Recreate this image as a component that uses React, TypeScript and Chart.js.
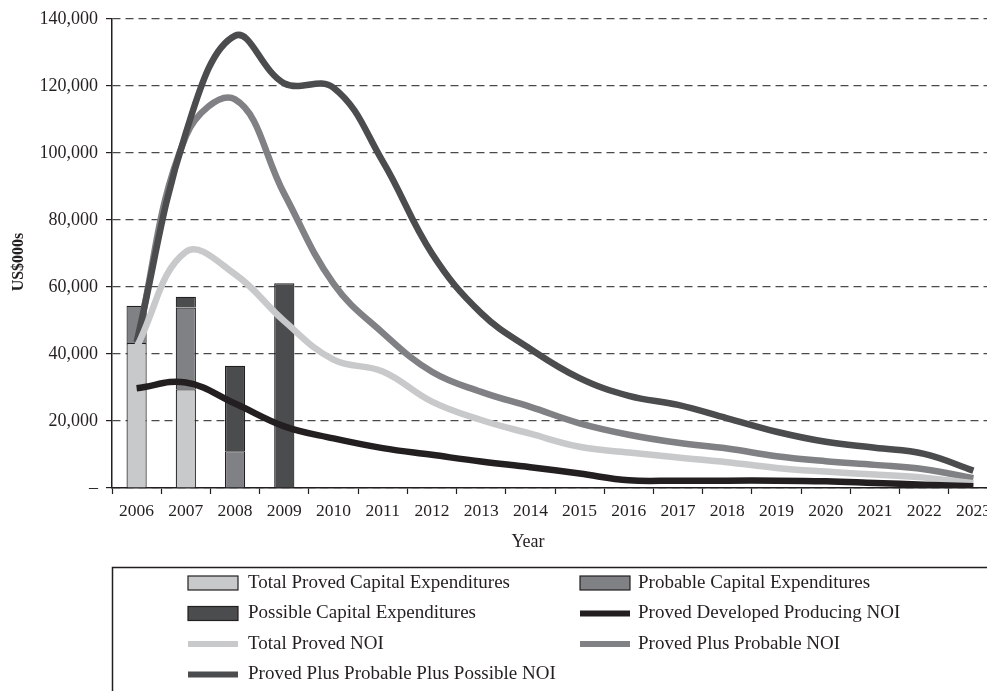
import { useEffect, useRef } from "react";
import { Chart, registerables } from "chart.js";

Chart.register(...registerables);

// Reserve-category cash flows, US$000s
const years = [
  "2006", "2007", "2008", "2009", "2010", "2011", "2012", "2013", "2014",
  "2015", "2016", "2017", "2018", "2019", "2020", "2021", "2022", "2023",
];

const totalProvedCapex = [43300, 29500, null, null, null, null, null, null, null, null, null, null, null, null, null, null, null, null];
const probableCapex = [11100, 24400, 11000, null, null, null, null, null, null, null, null, null, null, null, null, null, null, null];
const possibleCapex = [null, 3200, 25500, 61100, null, null, null, null, null, null, null, null, null, null, null, null, null, null];

const pdpNoi = [29800, 31500, 25200, 18400, 14800, 11900, 9900, 7900, 6200, 4300, 2300, 2200, 2200, 2200, 2000, 1500, 1000, 500];
const totalProvedNoi = [42000, 70500, 63800, 49800, 38300, 34800, 25800, 20300, 16200, 12300, 10600, 9100, 7700, 6000, 4900, 4000, 3100, 1400];
const provedProbableNoi = [43500, 105000, 116000, 87800, 61000, 46300, 34700, 28700, 24200, 19300, 15900, 13500, 11800, 9500, 8000, 6900, 5600, 2900];
const provedProbablePossibleNoi = [43500, 106000, 135000, 120800, 119500, 97500, 70000, 52200, 41500, 32800, 27500, 24800, 20800, 16800, 13800, 12000, 10200, 5200];

const FONT = "'Liberation Serif', 'Times New Roman', serif";
const INK = "#231f20";

const LIGHT = "#c8c9cb";
const MID = "#808184";
const DARK = "#4b4c4e";

// Boxed two-column legend below the axis
const boxLegend = {
  id: "boxLegend",
  afterDraw(chart: any) {
    const ctx = chart.ctx as CanvasRenderingContext2D;
    const rows = [583, 613.5, 644, 674.5];
    const swatchX = [188, 580];
    const textX = [248, 638];
    ctx.save();
    ctx.strokeStyle = INK;
    ctx.lineWidth = 1.5;
    ctx.strokeRect(112.5, 567.5, 1400, 400);
    ctx.font = `19px ${FONT}`;
    ctx.textBaseline = "middle";
    ctx.textAlign = "left";
    chart.data.datasets.forEach((ds: any, i: number) => {
      const r = Math.floor(i / 2);
      const c = i % 2;
      const y = rows[r];
      const x = swatchX[c];
      if (ds.type === "line") {
        ctx.fillStyle = ds.borderColor;
        ctx.fillRect(x, y - 3, 50, 6);
      } else {
        ctx.fillStyle = ds.backgroundColor;
        ctx.fillRect(x, y - 7, 50, 14);
        ctx.strokeStyle = INK;
        ctx.lineWidth = 1.2;
        ctx.strokeRect(x, y - 7, 50, 14);
      }
      ctx.fillStyle = INK;
      ctx.fillText(ds.label, textX[c], y);
    });
    ctx.restore();
  },
};

// Axis titles
const axisTitles = {
  id: "axisTitles",
  afterDraw(chart: any) {
    const ctx = chart.ctx as CanvasRenderingContext2D;
    ctx.save();
    ctx.fillStyle = INK;
    ctx.textAlign = "center";
    ctx.textBaseline = "middle";
    ctx.font = `18px ${FONT}`;
    ctx.fillText("Year", 528, 542);
    ctx.translate(19, 262);
    ctx.rotate(-Math.PI / 2);
    ctx.font = `bold 16px ${FONT}`;
    ctx.fillText("US$000s", 0, 0);
    ctx.restore();
  },
};

export default function App() {
  const canvasRef = useRef<HTMLCanvasElement | null>(null);

  useEffect(() => {
    if (!canvasRef.current) return;
    const bar = (label: string, data: (number | null)[], color: string) => ({
      type: "bar" as const,
      label,
      data,
      backgroundColor: color,
      borderColor: INK,
      borderWidth: 1.2,
      stack: "capex",
      order: 5,
      categoryPercentage: 1,
      barPercentage: 0.41,
    });
    const line = (label: string, data: number[], color: string, order: number) => ({
      type: "line" as const,
      label,
      data,
      borderColor: color,
      backgroundColor: color,
      borderWidth: 6.5,
      pointRadius: 0,
      tension: 0.4,
      fill: false,
      stack: label,
      order,
      borderJoinStyle: "round" as const,
    });

    const chart = new Chart(canvasRef.current, {
      type: "bar",
      data: {
        labels: years,
        datasets: [
          bar("Total Proved Capital Expenditures", totalProvedCapex, LIGHT),
          bar("Probable Capital Expenditures", probableCapex, MID),
          bar("Possible Capital Expenditures", possibleCapex, DARK),
          line("Proved Developed Producing NOI", pdpNoi, INK, 0),
          line("Total Proved NOI", totalProvedNoi, LIGHT, 1),
          line("Proved Plus Probable NOI", provedProbableNoi, MID, 3),
          line("Proved Plus Probable Plus Possible NOI", provedProbablePossibleNoi, DARK, 2),
        ] as any,
      },
      options: {
        responsive: false,
        animation: false,
        devicePixelRatio: 1,
        layout: { padding: { left: 0, top: 19, right: 14, bottom: 202 } },
        plugins: {
          legend: { display: false },
          tooltip: { enabled: false },
        },
        scales: {
          x: {
            offset: true,
            grid: {
              offset: true,
              drawOnChartArea: false,
              tickLength: 6,
              tickColor: INK,
              tickWidth: 1.2,
            },
            border: { color: INK, width: 1.5 },
            ticks: {
              font: { family: FONT, size: 17.5 },
              color: INK,
              padding: 7,
              maxRotation: 0,
              autoSkip: false,
            },
            afterFit: (s: any) => {
              s.height = 30;
            },
          },
          y: {
            stacked: true,
            min: 0,
            max: 140000,
            ticks: {
              stepSize: 20000,
              font: { family: FONT, size: 18 },
              color: INK,
              padding: 8,
              callback: (v: any) => (Number(v) === 0 ? "\u2013" : Number(v).toLocaleString("en-US")),
            },
            grid: {
              color: "#4a4a4a",
              lineWidth: 1.2,
              tickLength: 6,
              tickColor: INK,
              tickWidth: 1.2,
              tickBorderDash: [],
            },
            border: { color: INK, width: 1.5, dash: [8, 5] },
            afterFit: (s: any) => {
              s.width = 112;
            },
          },
        },
      },
      plugins: [boxLegend, axisTitles],
    });
    return () => chart.destroy();
  }, []);

  return (
    <div
      style={{
        position: "fixed",
        left: 0,
        top: 0,
        width: 987,
        height: 691,
        overflow: "hidden",
        background: "#ffffff",
      }}
    >
      <canvas ref={canvasRef} width={1012} height={720} style={{ display: "block" }} />
    </div>
  );
}
